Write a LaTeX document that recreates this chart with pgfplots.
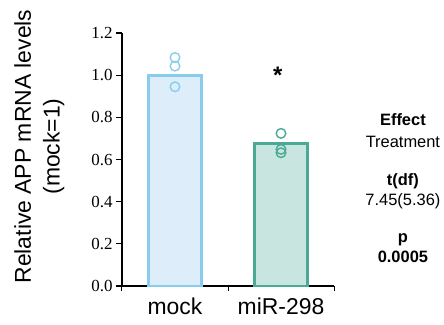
\documentclass[border=0pt]{standalone}
\usepackage{pgfplots}
\pgfplotsset{compat=1.18}
\usepackage{fontspec}
\setmainfont{Liberation Serif}
\newfontfamily\arialfont{Liberation Sans}

\definecolor{mockedge}{RGB}{137,205,236}
\definecolor{mockfill}{RGB}{221,238,250}
\definecolor{miredge}{RGB}{74,170,150}
\definecolor{mirfill}{RGB}{200,229,223}

\begin{document}
\begin{tikzpicture}[x=1bp,y=1bp]
\path[use as bounding box] (-122,-38) rectangle (322,286);
\begin{axis}[
  at={(0,0)}, anchor=south west,
  scale only axis, width=212bp, height=253bp,
  xmin=-0.5, xmax=1.5, ymin=0, ymax=1.2,
  axis x line*=bottom, axis y line*=left,
  axis line style={line width=1.4bp, black, -},
  xtick={0,1}, xticklabels={mock, miR-298},
  major x tick style={draw=none},
  minor xtick={-0.5,0.5,1.5},
  minor tick length=5bp,
  minor x tick style={line width=1bp, black},
  ytick={0,0.2,...,1.2},
  yticklabel style={/pgf/number format/.cd, fixed, fixed zerofill, precision=1},
  /pgf/number format/assume math mode=true,
  tick align=outside,
  major tick length=6bp,
  major y tick style={line width=1.2bp, black},
  ticklabel style={font=\fontsize{17}{17}\selectfont},
  xticklabel style={font=\arialfont\fontsize{23}{23}\selectfont, yshift=-2bp},
  ylabel={Relative APP mRNA levels\\(mock=1)},
  ylabel style={font=\arialfont\fontsize{23}{29}\selectfont, align=center, yshift=20bp, xshift=13bp},
  clip=false,
]
% group means
\addplot[ybar, bar width=0.5, draw=mockedge, fill=mockfill, line width=2.8bp, bar shift=0pt]
  coordinates {(0,1.0)};
\addplot[ybar, bar width=0.5, draw=miredge, fill=mirfill, line width=2.8bp, bar shift=0pt]
  coordinates {(1,0.676)};
% individual replicates
\addplot[only marks, mark=o, mark size=4.8bp, mockedge, mark options={line width=1.4bp}]
  coordinates {(0,1.084) (0,1.043) (0,0.945)};
\addplot[only marks, mark=o, mark size=4.8bp, miredge, mark options={line width=1.4bp}]
  coordinates {(1,0.724) (1,0.648) (1,0.632)};
% significance marker
\node[font=\arialfont\bfseries\fontsize{24}{24}\selectfont] at (axis cs:0.97,1.0) {*};
% statistics summary
\begin{scope}[every node/.style={font=\arialfont\fontsize{16.5}{16.5}\selectfont, anchor=base}]
\node at (rel axis cs:1.325,0.635) {\bfseries Effect};
\node at (rel axis cs:1.325,0.548) {Treatment};
\node at (rel axis cs:1.325,0.398) {\bfseries t(df)};
\node at (rel axis cs:1.325,0.318) {7.45(5.36)};
\node at (rel axis cs:1.325,0.172) {\bfseries p};
\node at (rel axis cs:1.325,0.093) {\bfseries 0.0005};
\end{scope}
\end{axis}
\end{tikzpicture}
\end{document}
